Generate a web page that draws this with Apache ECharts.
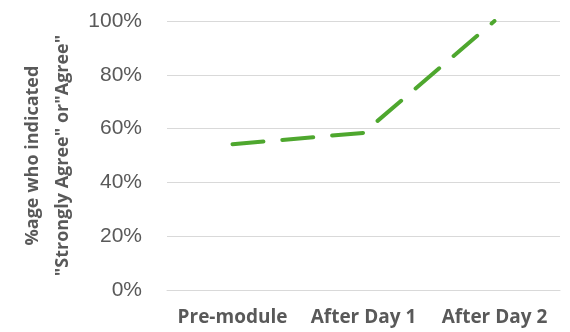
<!DOCTYPE html>
<html>
<head>
<meta charset="utf-8">
<script src="https://cdn.jsdelivr.net/npm/echarts@6/dist/echarts.min.js"></script>
<style>
  html, body { margin: 0; padding: 0; background: #fff; }
  #chart { width: 570px; height: 332px; }
</style>
</head>
<body>
<div id="chart"></div>
<script>
// Share of respondents agreeing, by stage of the module
const categories = ['Pre-module', 'After Day 1', 'After Day 2'];
const agreeShare = [54.2, 58.4, 100];
const yTicks = [0, 20, 40, 60, 80, 100];

const chart = echarts.init(document.getElementById('chart'), null, { renderer: 'canvas' });

chart.setOption({
  animation: false,
  grid: { left: 167, right: 10, top: 21, bottom: 42 },
  xAxis: {
    type: 'category',
    data: categories,
    boundaryGap: true,
    axisLine: { show: true, lineStyle: { color: '#d9d9d9', width: 1 } },
    axisTick: { show: false },
    axisLabel: {
      interval: 0,
      hideOverlap: false,
      color: '#595959',
      fontFamily: '"Open Sans", sans-serif',
      fontWeight: 'bold',
      fontSize: 19,
      margin: 18
    }
  },
  yAxis: {
    type: 'value',
    min: yTicks[0],
    max: yTicks[yTicks.length - 1],
    interval: 20,
    name: '%age who indicated\n"Strongly Agree" or"Agree"',
    nameLocation: 'middle',
    nameGap: 85,
    nameRotate: 90,
    nameTextStyle: {
      color: '#595959',
      fontFamily: '"Open Sans", sans-serif',
      fontWeight: 'bold',
      fontSize: 18,
      lineHeight: 30
    },
    axisLine: { show: false },
    axisTick: { show: false },
    splitLine: { lineStyle: { color: '#d9d9d9', width: 1 } },
    axisLabel: {
      color: '#595959',
      fontFamily: '"Liberation Sans", Arial, sans-serif',
      fontSize: 21,
      margin: 25,
      formatter: v => v + '%'
    }
  },
  series: [{
    type: 'line',
    data: agreeShare,
    symbol: 'none',
    lineStyle: {
      color: '#4ea72e',
      width: 4,
      type: [31, 19],
      cap: 'round',
      join: 'round'
    }
  }]
});
</script>
</body>
</html>
